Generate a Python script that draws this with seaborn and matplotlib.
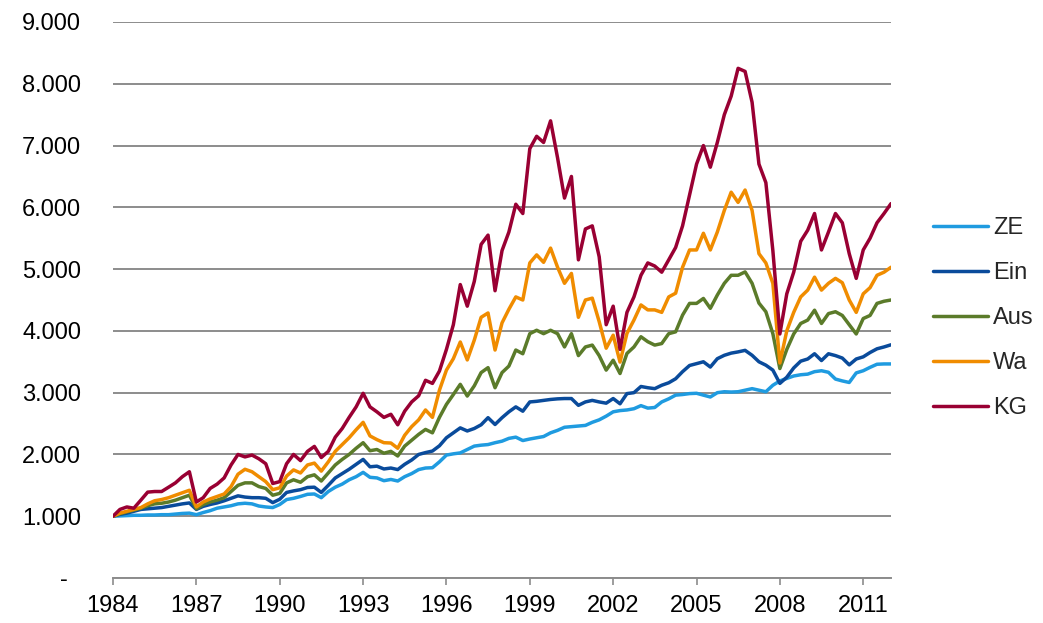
import pandas as pd
import matplotlib
matplotlib.use('Agg')
import matplotlib.pyplot as plt
import seaborn as sns

# quarterly index values, Jan 1984 = 1.000
quarters = pd.date_range('1984-01-01', '2012-01-01', freq='QS')

ZE = [1000, 1005, 1010, 1015,  1015, 1020, 1020, 1025,  1025, 1035, 1045, 1050,
      1025, 1060, 1090, 1130,  1150, 1170, 1200, 1210,  1200, 1165, 1150, 1140,
      1190, 1270, 1290, 1320,  1355, 1360, 1300, 1400,  1470, 1520, 1590, 1640,
      1710, 1630, 1620, 1575,  1595, 1570, 1640, 1690,  1755, 1780, 1785, 1880,
      1990, 2010, 2025, 2080,  2135, 2150, 2160, 2190,  2215, 2260, 2280, 2225,
      2250, 2270, 2290, 2350,  2390, 2440, 2450, 2460,  2470, 2520, 2560, 2620,
      2690, 2710, 2720, 2740,  2790, 2750, 2760, 2850,  2900, 2960, 2970, 2985,
      2990, 2960, 2930, 3000,  3015, 3010, 3015, 3040,  3065, 3040, 3015, 3120,
      3190, 3230, 3270, 3290,  3300, 3340, 3355, 3330,  3220, 3190, 3165, 3320,
      3355, 3410, 3460, 3465,  3465]

Ein = [1000, 1030, 1050, 1080,  1110, 1120, 1130, 1140,  1160, 1180, 1200, 1215,
       1110, 1160, 1190, 1215,  1250, 1290, 1330, 1310,  1300, 1300, 1290, 1220,
       1275, 1385, 1410, 1430,  1465, 1470, 1385, 1500,  1620, 1690, 1760, 1840,
       1920, 1800, 1810, 1765,  1780, 1755, 1840, 1910,  2000, 2030, 2055, 2140,
       2270, 2350, 2430, 2380,  2420, 2480, 2595, 2485,  2595, 2690, 2770, 2700,
       2850, 2860, 2875, 2890,  2900, 2905, 2905, 2795,  2850, 2875, 2850, 2830,
       2905, 2820, 2985, 3000,  3100, 3080, 3065, 3120,  3160, 3225, 3340, 3440,
       3470, 3500, 3415, 3550,  3605, 3640, 3660, 3685,  3605, 3500, 3445, 3365,
       3150, 3250, 3400, 3510,  3545, 3630, 3520, 3630,  3600, 3560, 3450, 3545,
       3580, 3650, 3710, 3740,  3775]

Aus = [1000, 1040, 1070, 1100,  1130, 1170, 1200, 1210,  1230, 1260, 1300, 1340,
       1120, 1190, 1230, 1260,  1300, 1400, 1500, 1540,  1540, 1480, 1450, 1340,
       1370, 1540, 1590, 1550,  1640, 1670, 1570, 1700,  1830, 1920, 2000, 2100,
       2190, 2060, 2080, 2020,  2050, 1975, 2135, 2230,  2325, 2405, 2350, 2600,
       2810, 2970, 3135, 2945,  3110, 3325, 3405, 3080,  3325, 3430, 3690, 3630,
       3955, 4010, 3955, 4010,  3955, 3740, 3955, 3600,  3740, 3770, 3600, 3365,
       3525, 3310, 3635, 3740,  3905, 3825, 3770, 3795,  3955, 3985, 4255, 4445,
       4445, 4525, 4365, 4580,  4770, 4900, 4900, 4955,  4770, 4450, 4310, 3955,
       3390, 3700, 3950, 4120,  4175, 4335, 4120, 4280,  4310, 4250, 4100, 3950,
       4200, 4250, 4445, 4480,  4500]

Wa = [1000, 1050, 1080, 1110,  1140, 1200, 1250, 1270,  1300, 1340, 1380, 1420,
      1150, 1230, 1280, 1320,  1360, 1480, 1680, 1760,  1720, 1640, 1560, 1430,
      1460, 1650, 1750, 1700,  1830, 1860, 1730, 1880,  2050, 2160, 2270, 2400,
      2520, 2300, 2240, 2190,  2185, 2100, 2310, 2450,  2560, 2720, 2600, 3040,
      3365, 3550, 3820, 3530,  3850, 4220, 4290, 3690,  4130, 4350, 4550, 4500,
      5100, 5230, 5110, 5340,  5030, 4770, 4930, 4220,  4500, 4530, 4150, 3720,
      3930, 3495, 3960, 4175,  4420, 4340, 4340, 4300,  4550, 4610, 5030, 5310,
      5310, 5580, 5310, 5600,  5950, 6245, 6080, 6280,  5950, 5250, 5100, 4770,
      3480, 4000, 4300, 4550,  4660, 4870, 4660, 4770,  4850, 4780, 4500, 4300,
      4600, 4700, 4900, 4950,  5030]

KG = [1000, 1110, 1150, 1130,  1260, 1390, 1400, 1400,  1470, 1540, 1640, 1720,
      1230, 1300, 1450, 1520,  1620, 1830, 2000, 1960,  1990, 1930, 1850, 1530,
      1560, 1850, 2000, 1900,  2050, 2130, 1950, 2050,  2280, 2420, 2600, 2770,
      2990, 2770, 2690, 2600,  2650, 2480, 2700, 2850,  2950, 3200, 3150, 3350,
      3700, 4100, 4750, 4400,  4800, 5400, 5550, 4650,  5300, 5600, 6050, 5900,
      6950, 7150, 7050, 7400,  6800, 6150, 6500, 5150,  5650, 5700, 5200, 4100,
      4400, 3700, 4300, 4550,  4900, 5100, 5050, 4950,  5150, 5350, 5700, 6200,
      6700, 7000, 6650, 7050,  7500, 7800, 8250, 8200,  7700, 6700, 6400, 5300,
      3950, 4600, 4950, 5450,  5630, 5900, 5310, 5600,  5900, 5750, 5250, 4850,
      5310, 5500, 5750, 5900,  6060]

series_names = ['ZE', 'Ein', 'Aus', 'Wa', 'KG']
colors = {'ZE': '#1f9be0', 'Ein': '#0a4b9b', 'Aus': '#5b7b2a',
          'Wa': '#f08c00', 'KG': '#990033'}
year_ticks = [1984, 1987, 1990, 1993, 1996, 1999, 2002, 2005, 2008, 2011]

df = pd.DataFrame({'date': quarters, 'ZE': ZE, 'Ein': Ein, 'Aus': Aus,
                   'Wa': Wa, 'KG': KG})
long_df = df.melt(id_vars='date', var_name='series', value_name='value')

sns.set_style('white')
plt.rcParams['font.family'] = ['Liberation Sans', 'DejaVu Sans']
FS = 17

fig = plt.figure(figsize=(10.43, 6.23), dpi=100)
ax = fig.add_axes([113 / 1043, 1 - 578 / 623, (891 - 113) / 1043, (578 - 22) / 623])

sns.lineplot(data=long_df, x='date', y='value', hue='series',
             hue_order=series_names, palette=colors, linewidth=2.5, ax=ax)

ax.set_xlim(pd.Timestamp('1984-01-01'), pd.Timestamp('2012-01-01'))
ax.set_ylim(0, 9000)
ax.set_yticks(range(0, 9001, 1000))
ax.yaxis.set_major_formatter(matplotlib.ticker.FuncFormatter(
    lambda v, p: format(int(v), ',').replace(',', '.') if v > 0 else '-  '))
ax.set_xticks([pd.Timestamp(f'{y}-01-01') for y in year_ticks])
ax.set_xticklabels([str(y) for y in year_ticks])
ax.set_xlabel('')
ax.set_ylabel('')

ax.grid(axis='y', color='#8c8c8c', linewidth=1.4)
ax.grid(axis='x', visible=False)
for side in ['top', 'right', 'left']:
    ax.spines[side].set_visible(False)
ax.spines['bottom'].set_color('#8c8c8c')
ax.spines['bottom'].set_linewidth(1.4)
ax.tick_params(axis='y', length=0, pad=23, labelsize=FS, labelcolor='black')
ax.tick_params(axis='x', length=5, width=1.2, color='#8c8c8c', direction='out',
               pad=7, labelsize=FS, labelcolor='black')
ax.tick_params(axis='x', bottom=True)

handles, labels = ax.get_legend_handles_labels()
ax.legend(handles, labels, loc='center left', bbox_to_anchor=(933 / 1043, 1 - 318 / 623),
          bbox_transform=fig.transFigure, frameon=False, fontsize=FS,
          handlelength=2.35, handletextpad=0.2, labelspacing=0.97,
          borderpad=0, borderaxespad=0)

fig.savefig('out.png', dpi=100)
